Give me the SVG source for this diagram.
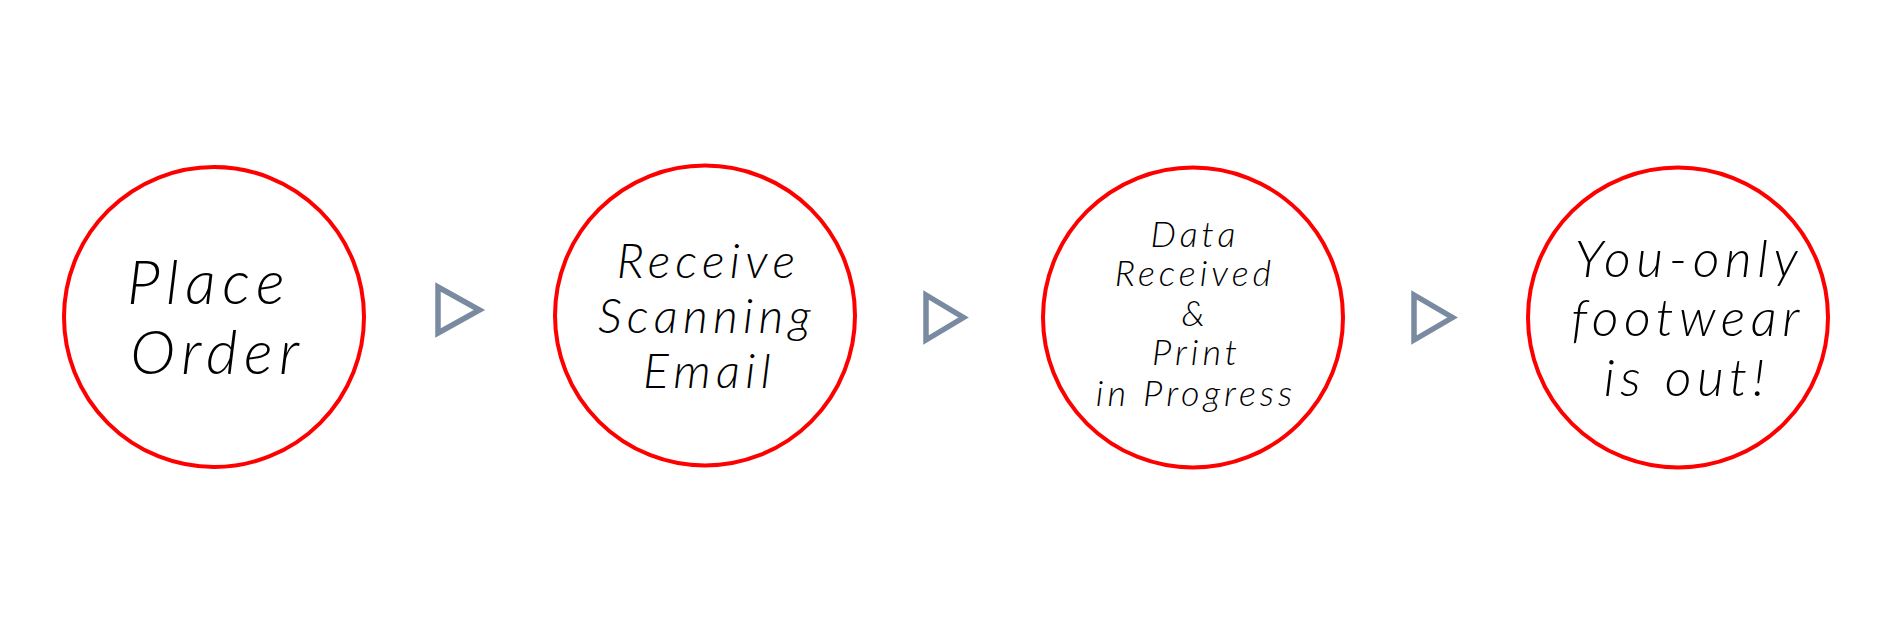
<svg xmlns="http://www.w3.org/2000/svg" width="1890" height="620" viewBox="0 0 1890 620">
<style>
.node circle{fill:#fff;stroke:#ff0000;stroke-width:4}
.node text{font-family:Lato,"Liberation Sans",sans-serif;font-style:italic;font-weight:300;fill:#000;text-anchor:middle}
.conn polygon{fill:none;stroke:#7a8ba1;stroke-width:5.5;stroke-linejoin:miter}
</style>
<rect width="1890" height="620" fill="#fff"/>
<g class="conn" id="connectors">
<polygon points="438,287 438,333 479.5,310"/>
<polygon points="926,295 926,340 963.5,317.5"/>
<polygon points="1414,295 1414,340 1452.5,317.5"/>
</g>
<g class="node" id="n1">
<circle cx="214" cy="317" r="150"/>
<text font-size="61" letter-spacing="6.5"><tspan x="209" y="304">Place</tspan><tspan x="218" y="374">Order</tspan></text>
</g>
<g class="node" id="n2">
<circle cx="705" cy="315.5" r="150"/>
<text font-size="48" letter-spacing="5.3"><tspan x="708.5" y="278">Receive</tspan><tspan x="707" y="333">Scanning</tspan><tspan x="709.5" y="388">Email</tspan></text>
</g>
<g class="node" id="n3">
<circle cx="1193" cy="317.5" r="150"/>
<text font-size="36" letter-spacing="4"><tspan x="1195" y="247">Data</tspan><tspan x="1195" y="286">Received</tspan><tspan x="1195" y="326">&amp;</tspan><tspan x="1196.5" y="365">Print</tspan><tspan x="1196" y="406">in Progress</tspan></text>
</g>
<g class="node" id="n4">
<circle cx="1678" cy="317.5" r="150"/>
<text font-size="52" letter-spacing="5.5"><tspan x="1689" y="277">You-only</tspan><tspan x="1688" y="336">footwear</tspan><tspan x="1687" y="396">is out!</tspan></text>
</g>
</svg>
